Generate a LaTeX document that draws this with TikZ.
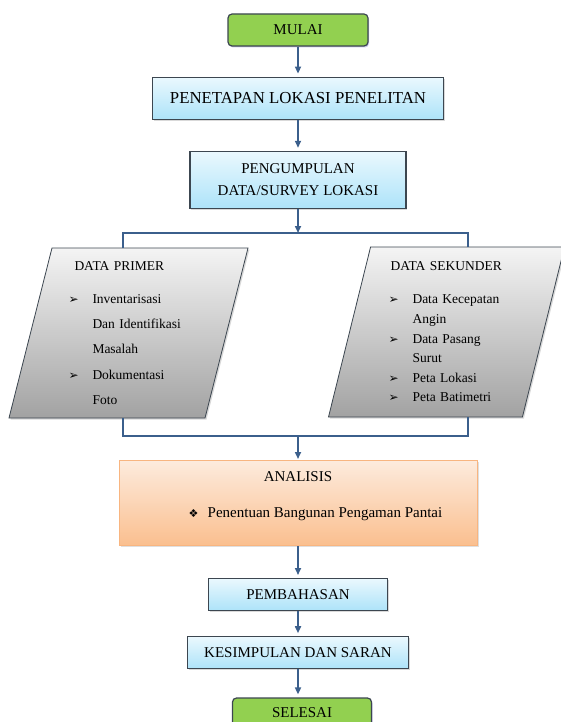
\documentclass[tikz,border=0pt]{standalone}
\usepackage{fontspec}
\setmainfont{Liberation Serif}
\newfontfamily\symfont{DejaVu Sans}
\usepackage{tikz}
\usetikzlibrary{shapes,arrows.meta,positioning,shadows}
\definecolor{startgreen}{HTML}{92D050}
\definecolor{edgegray}{HTML}{3C4650}
\definecolor{bluetop}{HTML}{EAF8FE}
\definecolor{bluebottom}{HTML}{ADE3F9}
\definecolor{graytop}{HTML}{F4F4F4}
\definecolor{graybottom}{HTML}{A2A2A2}
\definecolor{peachtop}{HTML}{FDEBDD}
\definecolor{peachbottom}{HTML}{FABF8F}
\definecolor{peachedge}{HTML}{F8B580}
\definecolor{flowblue}{HTML}{3B5F8C}
\newcommand{\itemarrow}{\makebox[24pt][l]{\symfont\fontsize{12}{12}\selectfont ➢}}
\newcommand{\itemdiamond}{\makebox[19pt][l]{\symfont\fontsize{11}{11}\selectfont ❖}}
\tikzset{
  every node/.style={
    font=\fontsize{15}{18}\selectfont
  },
  terminal/.style={
    shape=rectangle,
    rounded corners=4pt,
    draw=edgegray,
    line width=1.2pt,
    fill=startgreen,
    minimum width=140pt,
    minimum height=32pt,
    drop shadow={shadow xshift=1pt,shadow yshift=-1.5pt,opacity=0.3,fill=blue!40!gray}
  },
  process/.style={
    shape=rectangle,
    draw=edgegray,
    line width=1.2pt,
    top color=bluetop,
    bottom color=bluebottom,
    minimum height=32pt,
    align=center,
    drop shadow={shadow xshift=1pt,shadow yshift=-1.5pt,opacity=0.3}
  },
  datainput/.style={
    trapezium,
    trapezium left angle=74,
    trapezium right angle=106,
    trapezium stretches body,
    draw=edgegray,
    line width=0.8pt,
    top color=graytop,
    bottom color=graybottom,
    minimum height=170pt,
    align=left,
    drop shadow={shadow xshift=1.5pt,shadow yshift=-1.5pt,opacity=0.3}
  },
  analysis/.style={
    shape=rectangle,
    draw=peachedge,
    line width=1pt,
    top color=peachtop,
    bottom color=peachbottom,
    minimum width=358pt,
    minimum height=85pt,
    drop shadow={shadow xshift=1.5pt,shadow yshift=-1.5pt,opacity=0.25}
  },
  flow/.style={
    draw=flowblue,
    line width=1.6pt
  },
  flowarrow/.style={
    flow,
    -{Triangle[length=7pt,width=6pt]},
    shorten >=3pt
  }
}
\begin{document}
\begin{tikzpicture}[x=1pt,y=-1pt]
  \useasboundingbox (0,0) rectangle (561,722);
  \node [terminal] (mulai) at (298,30) {MULAI};
  \node [process, minimum width=291pt, minimum height=42pt, below=30pt of mulai,
    font=\fontsize{16.8}{20}\selectfont] (lokasi)
    {PENETAPAN LOKASI PENELITAN};
  \node [process, minimum width=216pt, minimum height=57pt, below=31pt of lokasi,
    font=\fontsize{15}{22}\selectfont] (survey)
    {PENGUMPULAN\\DATA/SURVEY LOKASI};
  \coordinate (split) at ([yshift=-24pt]survey.south);
  \coordinate (leftbus) at (123,230);
  \coordinate (rightbus) at (468,230);
  \node [datainput, minimum width=239pt, text width=120pt,
    font=\fontsize{13.5}{25.3}\selectfont] (primer) at (128.5,333) {
      \hspace*{6pt}DATA PRIMER\\[7.7pt]
      \itemarrow Inventarisasi\\
      \hspace*{24pt}Dan Identifikasi\\
      \hspace*{24pt}Masalah\\
      \itemarrow Dokumentasi\\
      \hspace*{24pt}Foto
    };
  \node [datainput, minimum width=236pt, text width=116pt,
    font=\fontsize{13.5}{19.6}\selectfont] (sekunder) at (446.5,332) {
      \hspace*{2pt}DATA SEKUNDER\\[13.4pt]
      \itemarrow Data Kecepatan\\
      \hspace*{24pt}Angin\\
      \itemarrow Data Pasang\\
      \hspace*{24pt}Surut\\
      \itemarrow Peta Lokasi\\
      \itemarrow Peta Batimetri
    };
  \node [analysis, below=251pt of survey] (analisis) {};
  \node [anchor=base] (analisistitle) at ([yshift=-21pt]analisis.north) {ANALISIS};
  \node [anchor=base west, inner sep=0pt] (analisisitem) at ([xshift=70pt,yshift=-57pt]analisis.north west)
    {\itemdiamond Penentuan Bangunan Pengaman Pantai};
  \coordinate (join) at ([yshift=24pt]analisis.north);
  \node [process, minimum width=179pt, below=32pt of analisis] (bahas) {PEMBAHASAN};
  \node [process, minimum width=221pt, below=25pt of bahas] (simpulan) {KESIMPULAN DAN SARAN};
  \node [terminal, minimum width=139pt, minimum height=30pt, below=28pt of simpulan, xshift=4pt] (selesai) {SELESAI};

  \draw [flowarrow] (mulai) -- (lokasi);
  \draw [flowarrow] (lokasi) -- (survey);
  \draw [flowarrow, shorten >=0pt] (survey) -- (split);
  \draw [flow] (primer.north -| leftbus) |- (split) -| (sekunder.north -| rightbus);
  \draw [flow] (primer.south -| leftbus) |- (join) -| (sekunder.south -| rightbus);
  \draw [flowarrow, shorten >=1pt] (join) -- (analisis);
  \draw [flowarrow] (analisis) -- (bahas);
  \draw [flowarrow] (bahas) -- (simpulan);
  \draw [flowarrow] (simpulan) -- (simpulan |- selesai.north);
\end{tikzpicture}
\end{document}
